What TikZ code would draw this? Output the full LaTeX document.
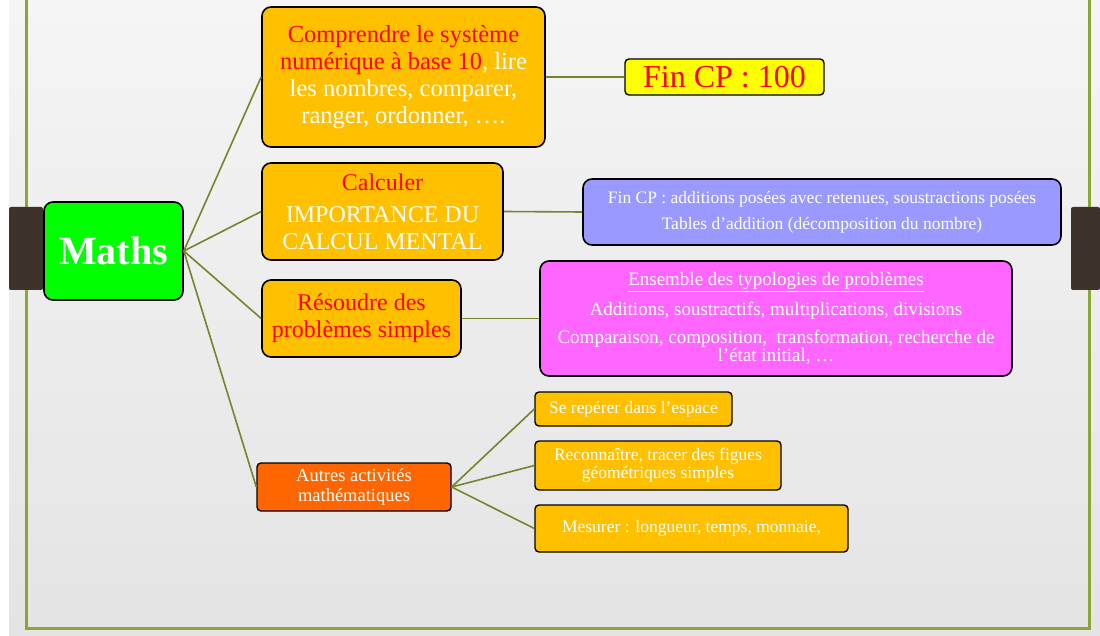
\documentclass[tikz,border=0pt]{standalone}
\usepackage{fontspec}
\setmainfont{Liberation Serif}
\definecolor{bgtop}{HTML}{F5F5F5}
\definecolor{bgbot}{HTML}{E4E4E4}
\definecolor{frame}{HTML}{8AA637}
\definecolor{conn}{HTML}{74852B}
\definecolor{tab}{HTML}{3D332A}
\definecolor{orng}{HTML}{FFC000}
\definecolor{dorng}{HTML}{FF6600}
\definecolor{lgreen}{HTML}{00FF00}
\definecolor{lblue}{HTML}{9999FF}
\definecolor{mag}{HTML}{FF66FF}
\definecolor{yel}{HTML}{FFFF00}
\definecolor{txtred}{HTML}{FF0000}
\tikzset{
  box/.style={draw=black, line width=1.6pt, rounded corners=9pt, inner sep=0pt, align=center, text=white},
  sbox/.style={draw=black, line width=1.4pt, rounded corners=4pt, inner sep=0pt, align=center, text=white},
  conline/.style={draw=conn, line width=1.6pt},
}
\begin{document}
\begin{tikzpicture}[x=1pt,y=-1pt]
\useasboundingbox (0,0) rectangle (1100,636);
\fill[white] (0,0) rectangle (1100,636);
\shade[top color=bgtop, bottom color=bgbot] (9,0) rectangle (1100,636);
% frame
\draw[frame, line width=3pt] (26,0) -- (26,628) -- (1089,628) -- (1089,0);
% tabs
\fill[tab, rounded corners=2pt] (9,207) rectangle (43,290);
\fill[tab, rounded corners=2pt] (1071,207) rectangle (1100,290);

% nodes
\node[box, fill=lgreen, minimum width=139pt, minimum height=98pt, font=\fontsize{40}{44}\selectfont\bfseries] (maths) at (113.5,251) {Maths};

\node[box, fill=orng, minimum width=283pt, minimum height=140pt, font=\fontsize{24.5}{27}\selectfont] (b1) at (403.5,77)
  {\textcolor{txtred}{Comprendre le système}\\\textcolor{txtred}{numérique à base 10}, lire\\les nombres, comparer,\\ranger, ordonner, ….};

\node[sbox, fill=yel, minimum width=199pt, minimum height=36pt, text=txtred, font=\fontsize{32}{34}\selectfont] (fin) at (724.5,77) {Fin CP : 100};

\node[box, fill=orng, minimum width=241pt, minimum height=97pt, font=\fontsize{24}{27}\selectfont] (b2) at (382.5,211.5)
  {\textcolor{txtred}{Calculer}\\[5pt]IMPORTANCE DU\\CALCUL MENTAL};

\node[box, fill=lblue, minimum width=478pt, minimum height=66pt, font=\fontsize{17.5}{18}\selectfont] (blue) at (822,212)
  {Fin CP : additions posées avec retenues, soustractions posées\\[8pt]Tables d’addition (décomposition du nombre)};

\node[box, fill=orng, minimum width=199pt, minimum height=77pt, text=txtred, font=\fontsize{24}{27}\selectfont] (b3) at (361.5,318.5)
  {Résoudre des\\problèmes simples};

\node[box, fill=mag, minimum width=472pt, minimum height=115pt, font=\fontsize{19}{18}\selectfont] (mag) at (776,318.5)
  {\underline{Ensemble des typologies de problèmes}\\[10pt]Additions, soustractifs, multiplications, divisions\\[10pt]Comparaison, composition,~ transformation, recherche de\\l’état initial, …};

\node[sbox, fill=dorng, minimum width=194pt, minimum height=48pt, font=\fontsize{18.5}{20}\selectfont] (autres) at (354,487)
  {Autres activités\\mathématiques};

\node[sbox, fill=orng, minimum width=197pt, minimum height=34pt, font=\fontsize{17.4}{18}\selectfont] (s1) at (633.5,409)
  {Se repérer dans l’espace};
\node[sbox, fill=orng, minimum width=246pt, minimum height=49pt, font=\fontsize{17.5}{18}\selectfont] (s2) at (658,465.5)
  {Reconnaître, tracer des figues\\géométriques simples};
\node[sbox, fill=orng, minimum width=313pt, minimum height=47pt, font=\fontsize{17.5}{18}\selectfont] (s3) at (691.5,528.5)
  {Mesurer : longueur, temps, monnaie,};

% connectors
\draw[conline] (maths.east) -- (b1.west);
\draw[conline] (maths.east) -- (b2.west);
\draw[conline] (maths.east) -- (b3.west);
\draw[conline] (maths.east) -- (autres.west);
\draw[conline] (b1.east) -- (fin.west);
\draw[conline] (b2.east) -- (blue.west);
\draw[conline] (b3.east) -- (mag.west);
\draw[conline] (autres.east) -- (s1.west);
\draw[conline] (autres.east) -- (s2.west);
\draw[conline] (autres.east) -- (s3.west);
\end{tikzpicture}
\end{document}
